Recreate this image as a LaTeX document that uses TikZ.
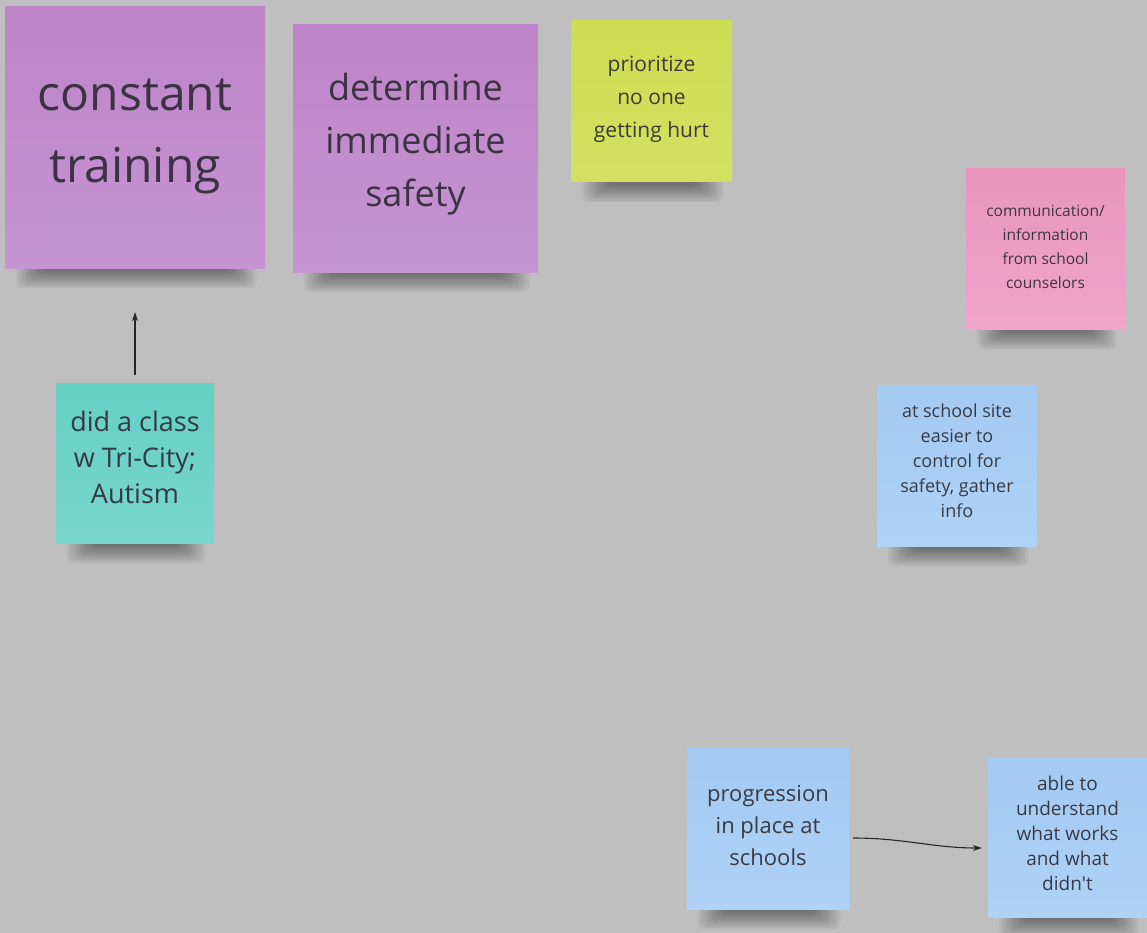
\documentclass[tikz,border=0pt]{standalone}
\usepackage{fontspec}
\setmainfont{Open Sans}
\usetikzlibrary{arrows.meta,calc}
\definecolor{bg}{RGB}{191,191,191}
\definecolor{inktext}{RGB}{45,42,52}
\definecolor{purpleT}{RGB}{189,132,200}
\definecolor{purpleB}{RGB}{198,148,210}
\definecolor{yellowT}{RGB}{205,221,82}
\definecolor{yellowB}{RGB}{210,225,98}
\definecolor{pinkT}{RGB}{233,149,190}
\definecolor{pinkB}{RGB}{239,166,203}
\definecolor{tealT}{RGB}{102,207,197}
\definecolor{tealB}{RGB}{120,214,206}
\definecolor{blueT}{RGB}{163,202,242}
\definecolor{blueB}{RGB}{175,210,246}
\tikzset{
  note/.style={inner sep=0pt},
  notetext/.style={inner sep=0pt, align=center, text=inktext, text opacity=0.9},
  purplenote/.style={top color=purpleT, bottom color=purpleB},
  yellownote/.style={top color=yellowT, bottom color=yellowB},
  pinknote/.style={top color=pinkT, bottom color=pinkB},
  tealnote/.style={top color=tealT, bottom color=tealB},
  bluenote/.style={top color=blueT, bottom color=blueB},
  link/.style={draw=black!85, line width=1.1pt, -{Stealth[length=9pt,width=6pt]}}
}
\newcommand{\stickynote}[8]{%
  \foreach \k in {1,...,12}{%
    \fill[black,opacity=0.04,rounded corners=7pt]
      ({#2-#4/2+8+2.5*\k},{#3+#5/2-4}) rectangle ({#2+#4/2-6-2.5*\k},{#3+#5/2+22-1.6*\k});
  }
  \node[note,#6,minimum width=#4pt,minimum height=#5pt] (#1) at (#2,#3) {};
  \node[notetext,#7] (#1-t) at (#2,#3) {#8};
}
\begin{document}
\begin{tikzpicture}[x=1pt,y=-1pt]
\fill[bg] (0,0) rectangle (1147,933);
\useasboundingbox (0,0) rectangle (1147,933);

\stickynote{ct}{135}{137.5}{260}{261}{purplenote}{font=\fontsize{48}{72}\selectfont,yshift=1pt}{constant\\training}
\stickynote{dis}{415.5}{148.5}{245}{247}{purplenote}{font=\fontsize{36}{53}\selectfont,yshift=4pt}{determine\\immediate\\safety}
\stickynote{pri}{651.5}{101.5}{161}{161}{yellownote}{font=\fontsize{21}{33}\selectfont,yshift=2pt}{prioritize\\no one\\getting hurt}
\stickynote{com}{1045.5}{249}{159}{160}{pinknote}{font=\fontsize{15.5}{24}\selectfont,yshift=2pt}{communication/\\information\\from school\\counselors}
\stickynote{dac}{135}{463}{158}{160}{tealnote}{font=\fontsize{27}{36}\selectfont,yshift=6pt}{did a class\\w Tri-City;\\Autism}
\stickynote{ass}{957}{465.5}{160}{161}{bluenote}{font=\fontsize{18}{25}\selectfont,yshift=5pt}{at school site\\easier to\\control for\\safety, gather\\info}
\stickynote{prog}{768}{828.5}{162}{161}{bluenote}{font=\fontsize{22}{32}\selectfont,yshift=3pt}{progression\\in place at\\schools}
\stickynote{able}{1067.5}{837}{159}{160}{bluenote}{font=\fontsize{19}{25}\selectfont,yshift=4pt}{able to\\understand\\what works\\and what\\didn\textquotesingle t}

\draw[link, shorten <=8pt, shorten >=44pt] (dac.north) -- (ct.south);
\draw[link, shorten <=4pt, shorten >=6pt] ([yshift=-9.5pt]prog.east) to[out=0,in=180] ([yshift=-11pt]able.west);
\end{tikzpicture}
\end{document}
